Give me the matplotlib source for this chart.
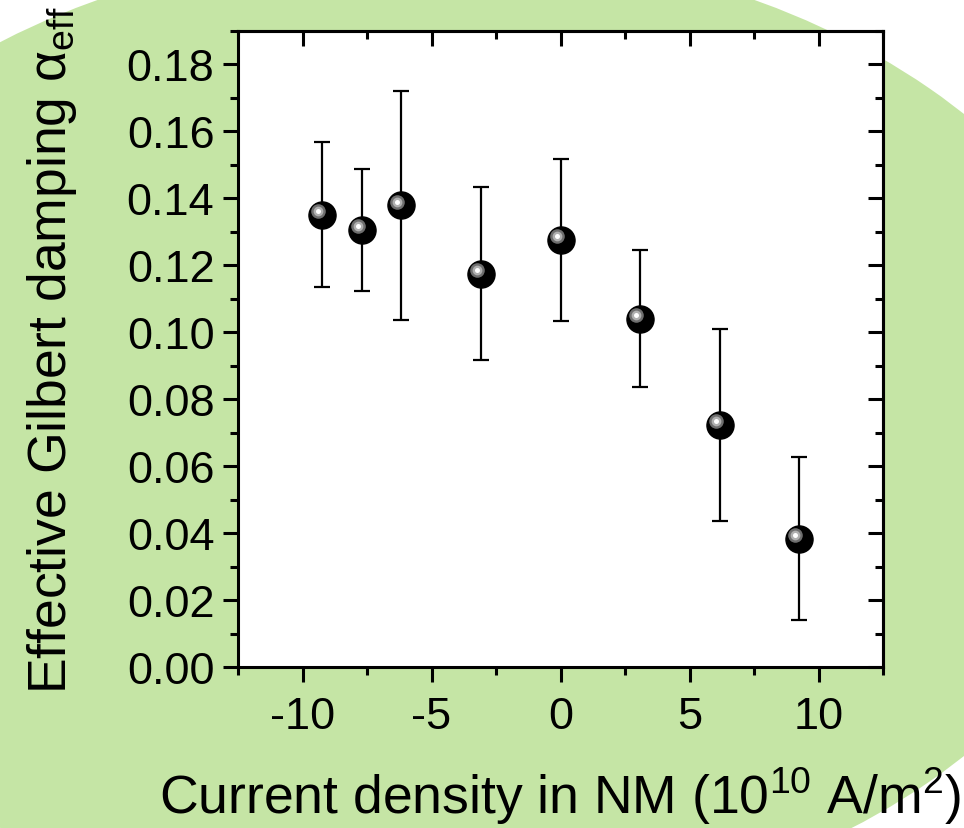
import matplotlib
matplotlib.use("Agg")
import matplotlib.pyplot as plt
from matplotlib.patches import Ellipse
from matplotlib.ticker import MultipleLocator, FormatStrFormatter
import matplotlib.transforms as mtransforms

# ---- data ----
current_density = [-9.25, -7.71, -6.19, -3.10, 0.0, 3.08, 6.17, 9.25]
damping = [0.1351, 0.1306, 0.1379, 0.1175, 0.1276, 0.1040, 0.0722, 0.0383]
damping_err = [0.0216, 0.0182, 0.0341, 0.0258, 0.0242, 0.0205, 0.0287, 0.0243]
x_ticks = [-10, -5, 0, 5, 10]
y_ticks = [0.00, 0.02, 0.04, 0.06, 0.08, 0.10, 0.12, 0.14, 0.16, 0.18]

plt.rcParams['font.family'] = ['Liberation Sans', 'DejaVu Sans']
plt.rcParams['mathtext.fontset'] = 'custom'
plt.rcParams['mathtext.rm'] = 'Liberation Sans'
plt.rcParams['mathtext.it'] = 'Liberation Sans:italic'
plt.rcParams['axes.unicode_minus'] = False

W, H = 964, 829
fig = plt.figure(figsize=(W / 100, H / 100), dpi=100)
fig.patch.set_facecolor('white')

# green background ellipse (figure-fraction coordinates)
bg = Ellipse((426 / W, 1 - 436 / H), 1423 / W, 981 / H,
             transform=fig.transFigure, facecolor='#C5E5A5', edgecolor='none', zorder=0)
fig.add_artist(bg)

ax = fig.add_axes([238 / W, 1 - 668 / H, (883 - 238) / W, (668 - 32) / H])
ax.set_facecolor('white')
ax.set_zorder(2)

ax.errorbar(current_density, damping, yerr=damping_err, fmt='none',
            ecolor='black', elinewidth=1.6, capsize=6, capthick=1.6, zorder=3)
ax.plot(current_density, damping, 'o', ms=19.5, mfc='black', mec='black', zorder=4)

# sphere highlight
off = mtransforms.offset_copy(ax.transData, fig=fig, x=-2.8, y=2.8, units='points')
ax.plot(current_density, damping, 'o', ms=10.5, mfc='#6e6e6e', mec='none', transform=off, zorder=5)
ax.plot(current_density, damping, 'o', ms=7.0, mfc='#b0b0b0', mec='none', transform=off, zorder=6)
ax.plot(current_density, damping, 'o', ms=3.6, mfc='white', mec='none', transform=off, zorder=7)

ax.set_xlim(-12.5, 12.5)
ax.set_ylim(0, 0.19)
ax.set_xticks(x_ticks)
ax.set_yticks(y_ticks)
ax.xaxis.set_minor_locator(MultipleLocator(2.5))
ax.yaxis.set_minor_locator(MultipleLocator(0.01))
ax.yaxis.set_major_formatter(FormatStrFormatter('%.2f'))

for s in ax.spines.values():
    s.set_linewidth(2.2)

ax.tick_params(axis='both', which='major', labelsize=32.5, length=11, width=2.2)
ax.tick_params(axis='both', which='minor', length=6, width=2.2)
ax.tick_params(axis='x', which='both', direction='out', top=False, pad=10)
ax.tick_params(axis='y', which='both', direction='out', right=False, pad=6)

# top / right inward ticks
axt = ax.secondary_xaxis('top')
axt.set_xticks(x_ticks)
axt.xaxis.set_minor_locator(MultipleLocator(2.5))
axt.tick_params(axis='x', which='major', direction='in', length=11, width=2.2, labeltop=False)
axt.tick_params(axis='x', which='minor', direction='in', length=6, width=2.2)
axt.spines['top'].set_linewidth(2.2)
axr = ax.secondary_yaxis('right')
axr.set_yticks(y_ticks)
axr.yaxis.set_minor_locator(MultipleLocator(0.01))
axr.tick_params(axis='y', which='major', direction='in', length=11, width=2.2, labelright=False)
axr.tick_params(axis='y', which='minor', direction='in', length=6, width=2.2)
axr.spines['right'].set_linewidth(2.2)

ax.set_xlabel(r'Current density in NM (10$^{10}$ A/m$^{2}$)', fontsize=38.5, labelpad=20)
ax.set_ylabel(r'Effective Gilbert damping α$_{\mathrm{eff}}$', fontsize=38.5, labelpad=34)

fig.savefig('out.png', dpi=100, facecolor='white')
